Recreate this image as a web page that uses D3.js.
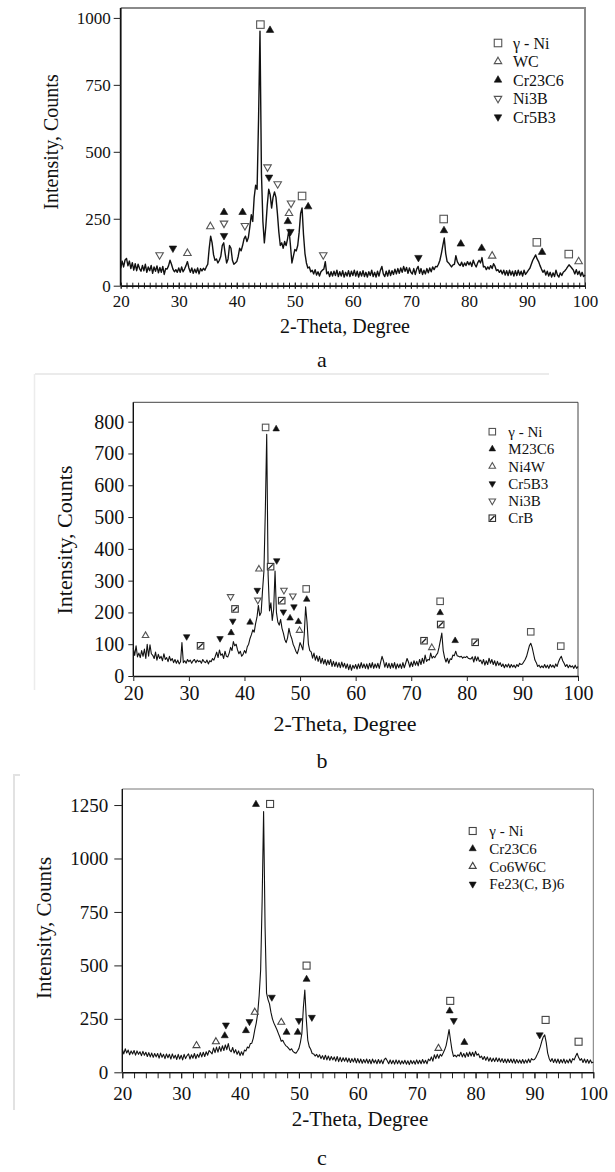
<!DOCTYPE html>
<html>
<head>
<meta charset="utf-8">
<script src="https://cdn.jsdelivr.net/npm/d3@7"></script>
<style>
body { margin: 0; background: #fff; }
svg { display: block; }
svg text { font-family: "Liberation Serif", "Times New Roman", serif !important; fill: #111; }
</style>
</head>
<body>
<svg id="chart" width="615" height="1172" font-family="Liberation Serif"></svg>
<script>
// all three scans are sampled on the same 2-theta grid
const scanStart = 20
const scanStep = 0.25

// (a) intensity, 20..100 deg, one row = 2 deg
const intensityA = [
  66, 92, 70, 96, 102, 74, 92, 64,
  86, 58, 82, 56, 80, 64, 54, 76,
  56, 80, 50, 70, 56, 76, 46, 70,
  54, 74, 48, 68, 50, 72, 42, 64,
  62, 75, 95, 80, 62, 52, 60, 50,
  66, 50, 70, 52, 62, 75, 90, 66,
  50, 66, 46, 62, 48, 66, 44, 64,
  55, 65, 58, 70, 80, 140, 185, 160,
  115, 95, 100, 85, 95, 110, 150, 160,
  120, 85, 100, 150, 140, 95, 80, 85,
  90, 110, 140, 130, 150, 175, 185, 165,
  180, 220, 265, 240, 330, 375, 360, 620,
  950, 420, 240, 160, 220, 300, 360, 340,
  290, 330, 350, 330, 270, 200, 150, 160,
  140, 165, 150, 175, 210, 150, 85, 110,
  135, 130, 150, 200, 270, 290, 190, 120,
  85, 66, 70, 52, 58, 44, 60, 40,
  52, 36, 52, 58, 62, 90, 44, 52,
  34, 52, 36, 54, 38, 58, 34, 52,
  36, 56, 32, 50, 36, 56, 34, 54,
  38, 58, 36, 54, 32, 52, 36, 56,
  34, 50, 32, 52, 38, 58, 34, 50,
  32, 54, 36, 58, 72, 44, 34, 54,
  36, 58, 38, 56, 42, 62, 44, 64,
  46, 66, 50, 72, 54, 68, 46, 66,
  50, 44, 64, 42, 62, 72, 46, 64,
  42, 58, 44, 64, 48, 66, 52, 70,
  60, 72, 70, 80, 95, 120, 150, 178,
  120, 90, 85, 78, 70, 78, 80, 112,
  90, 80, 75, 88, 72, 85, 75, 90,
  78, 88, 72, 95, 80, 70, 85, 95,
  85, 105, 70, 72, 60, 70, 62, 75,
  64, 82, 72, 56, 60, 50, 58, 44,
  58, 40, 56, 38, 58, 40, 54, 36,
  56, 38, 58, 40, 54, 36, 58, 42,
  50, 58, 65, 80, 95, 105, 115, 100,
  90, 75, 62, 50, 58, 40, 54, 36,
  50, 32, 48, 34, 58, 40, 32, 48,
  38, 50, 55, 62, 70, 78, 72, 65,
  58, 44, 60, 42, 54, 36, 50, 34,
  40
]

// (b)
const intensityB = [
  88, 65, 95, 60, 72, 58, 80, 62,
  85, 55, 100, 62, 98, 70, 65, 55,
  75, 50, 68, 55, 62, 48, 70, 52,
  58, 45, 62, 48, 55, 42, 52, 40,
  50, 38, 45, 105, 42, 48, 40, 52,
  45, 50, 40, 48, 52, 42, 50, 45,
  48, 40, 52, 45, 42, 50, 38, 48,
  45, 55, 50, 62, 75, 58, 82, 65,
  70, 55, 78, 62, 60, 72, 90, 80,
  108, 95, 100, 82, 70, 78, 62, 68,
  80, 72, 92, 100, 118, 130, 145, 138,
  165, 185, 222, 190, 200, 270, 330, 520,
  760, 320, 205, 230, 175, 210, 330, 200,
  170, 160, 178, 150, 135, 115, 105, 120,
  150, 130, 118, 100, 90, 78, 70, 85,
  105, 95, 82, 130, 218, 170, 100, 80,
  76, 56, 72, 50, 64, 46, 62, 40,
  56, 38, 52, 34, 50, 36, 52, 30,
  46, 30, 44, 28, 42, 26, 44, 28,
  40, 24, 38, 20, 36, 18, 34, 24,
  36, 22, 38, 24, 42, 26, 38, 24,
  38, 22, 40, 26, 42, 24, 38, 26,
  40, 24, 44, 62, 48, 28, 42, 26,
  40, 24, 40, 26, 42, 22, 38, 26,
  38, 24, 42, 26, 40, 55, 44, 28,
  44, 30, 48, 34, 46, 32, 52, 36,
  56, 40, 66, 46, 52, 50, 72, 56,
  62, 58, 66, 72, 90, 112, 135, 80,
  58, 44, 56, 40, 54, 52, 66, 64,
  78, 64, 62, 60, 62, 56, 60, 58,
  62, 56, 54, 54, 60, 44, 62, 48,
  60, 46, 50, 38, 52, 34, 48, 36,
  56, 40, 52, 36, 48, 32, 46, 34,
  42, 30, 38, 26, 36, 28, 38, 26,
  36, 28, 34, 26, 36, 30, 40, 36,
  38, 45, 52, 62, 78, 95, 103, 90,
  70, 50, 42, 30, 34, 26, 32, 26,
  36, 26, 34, 24, 36, 28, 34, 26,
  38, 30, 45, 55, 62, 48, 40, 30,
  36, 26, 34, 28, 32, 24, 34, 24,
  30
]

// (c)
const intensityC = [
  108, 86, 110, 90, 104, 82, 100, 86,
  102, 80, 100, 84, 96, 78, 98, 80,
  94, 74, 92, 72, 90, 70, 88, 72,
  88, 66, 90, 70, 84, 64, 86, 68,
  84, 62, 86, 66, 80, 60, 84, 62,
  80, 58, 84, 64, 78, 86, 62, 82,
  66, 88, 64, 84, 70, 92, 72, 94,
  74, 96, 80, 102, 94, 86, 114, 92,
  118, 94, 120, 98, 124, 102, 128, 106,
  134, 104, 96, 116, 90, 106, 84, 100,
  78, 96, 80, 104, 100, 118, 114, 134,
  136, 160, 198, 230, 276, 360, 480, 800,
  1220, 680, 370, 340, 320, 280, 250, 230,
  215, 200, 182, 165, 145, 150, 136, 125,
  120, 112, 104, 110, 97, 92, 89, 100,
  112, 140, 182, 300, 385, 250, 151, 120,
  108, 88, 86, 76, 84, 70, 82, 64,
  78, 60, 80, 58, 76, 56, 74, 58,
  72, 52, 74, 50, 70, 50, 68, 52,
  68, 48, 66, 46, 64, 48, 66, 44,
  64, 44, 62, 42, 60, 44, 62, 42,
  60, 40, 62, 44, 58, 40, 60, 42,
  58, 40, 60, 66, 54, 40, 58, 40,
  56, 38, 58, 40, 56, 38, 54, 40,
  56, 38, 54, 36, 56, 40, 54, 38,
  58, 40, 56, 40, 60, 42, 56, 40,
  62, 54, 72, 52, 82, 64, 84, 66,
  84, 76, 90, 105, 125, 160, 200, 150,
  104, 74, 80, 72, 82, 76, 94, 72,
  88, 70, 92, 74, 95, 76, 94, 74,
  98, 80, 86, 68, 76, 60, 74, 56,
  72, 52, 68, 50, 66, 50, 68, 50,
  66, 48, 64, 46, 62, 44, 62, 46,
  62, 44, 62, 42, 60, 44, 58, 42,
  60, 42, 58, 44, 62, 46, 64, 58,
  60, 70, 85, 100, 120, 145, 165, 175,
  140, 90, 65, 50, 64, 46, 62, 44,
  62, 42, 60, 44, 62, 42, 58, 44,
  62, 44, 64, 58, 75, 89, 70, 56,
  64, 46, 62, 44, 60, 42, 58, 44,
  48
]

// phase markers [2-theta, intensity where the mark sits]
const aNi = [[44.07, 975], [51.25, 335], [75.65, 249], [91.7, 162], [97.2, 118]]
const aWC = [[31.5, 121], [35.45, 221], [49.0, 270], [84.0, 111], [98.9, 90]]
const aCr23C6 = [[45.73, 954], [37.8, 274], [41.0, 274], [48.8, 240], [52.3, 295], [75.7, 206], [78.6, 156], [82.2, 140], [92.6, 125]]
const aNi3B = [[26.7, 115], [37.8, 233], [41.4, 224], [45.3, 443], [47.05, 380], [49.35, 308], [54.9, 115]]
const aCr5B3 = [[29.0, 140], [37.8, 187], [45.56, 405], [49.24, 202], [71.3, 105]]

const bNi = [[43.8, 782], [51.1, 274], [75.2, 235], [91.5, 139], [96.9, 94]]
const bM23C6 = [[45.7, 777], [37.6, 136], [41.0, 169], [48.2, 182], [49.7, 171], [51.2, 241], [75.2, 199], [77.9, 111]]
const bNi4W = [[22.2, 127], [42.6, 336], [49.9, 143], [73.7, 89]]
const bCr5B3 = [[29.6, 124], [35.6, 118], [37.9, 173], [42.3, 270], [45.8, 363], [47.0, 202], [48.9, 218]]
const bNi3B = [[37.5, 250], [42.4, 239], [47.1, 270], [48.7, 252]]
const bCrB = [[32.1, 95], [38.3, 211], [44.7, 344], [46.7, 237], [75.3, 162], [72.3, 111], [81.5, 106]]

const cNi = [[45.1, 1255], [51.3, 499], [75.7, 334], [91.9, 245], [97.5, 143]]
const cCr23C6 = [[42.7, 1253], [37.4, 171], [41.0, 195], [47.9, 187], [49.8, 187], [51.3, 435], [75.6, 287], [78.1, 140]]
const cCo6W6C = [[32.6, 125], [35.9, 143], [42.5, 281], [47.0, 234], [73.7, 112]]
const cFe23 = [[37.6, 221], [41.6, 237], [45.4, 351], [50.0, 242], [52.2, 257], [76.3, 242], [90.9, 175]]

const legendA = ['γ - Ni', 'WC', 'Cr23C6', 'Ni3B', 'Cr5B3']
const legendB = ['γ - Ni', 'M23C6', 'Ni4W', 'Cr5B3', 'Ni3B', 'CrB']
const legendC = ['γ - Ni', 'Cr23C6', 'Co6W6C', 'Fe23(C, B)6']

const xTicks = [20, 30, 40, 50, 60, 70, 80, 90, 100]
const yTicksA = [0, 250, 500, 750, 1000]
const yTicksB = [0, 100, 200, 300, 400, 500, 600, 700, 800]
const yTicksC = [0, 250, 500, 750, 1000, 1250]

const xTitle = '2-Theta, Degree'
const yTitle = 'Intensity, Counts'
const serif = '"Liberation Serif", "Times New Roman", serif'

const svg = d3.select('#chart')

// faint page frame lines left over from the scanned figure
svg.append('line').attr('x1', 35).attr('x2', 549).attr('y1', 374).attr('y2', 374)
    .attr('stroke', '#e4e4e4').attr('stroke-width', 1.5)
svg.append('line').attr('x1', 34.5).attr('x2', 34.5).attr('y1', 374).attr('y2', 690)
    .attr('stroke', '#ececec').attr('stroke-width', 1.5)
svg.append('path').attr('d', 'M20,775H14V1110')
    .attr('fill', 'none').attr('stroke', '#e2e2e2').attr('stroke-width', 2)

let glyph = (g, kind, cx, cy, s, openColor) => {
    if (kind == 'sq' || kind == 'crb') {
        g.append('rect')
            .attr('x', cx - s / 2).attr('y', cy - s / 2)
            .attr('width', s).attr('height', s)
            .attr('fill', '#fff')
            .attr('stroke', kind == 'crb' ? '#333' : openColor)
            .attr('stroke-width', 1.1)
        if (kind == 'crb') {
            g.append('line')
                .attr('x1', cx - s / 2 + 1).attr('y1', cy + s / 2 - 1)
                .attr('x2', cx + s / 2 - 1).attr('y2', cy - s / 2 + 1)
                .attr('stroke', '#222').attr('stroke-width', 1.3)
        }
        return
    }
    let up = kind == 'tu' || kind == 'tuf'
    let filled = kind == 'tuf' || kind == 'tdf'
    let area = s * s * Math.sqrt(3) / 4
    g.append('path')
        .attr('d', d3.symbol(d3.symbolTriangle, area)())
        .attr('transform', `translate(${cx},${cy}) rotate(${up ? 0 : 180})`)
        .attr('fill', filled ? '#111' : '#fff')
        .attr('stroke', filled ? '#111' : openColor)
        .attr('stroke-width', filled ? 0.6 : 1.1)
}

const drawPanel = (p) => {
    let g = svg.append('g')
    let x = d3.scaleLinear().domain([20, 100]).range([p.left, p.right])
    let y = d3.scaleLinear().domain([0, p.yMax]).range([p.bottom, p.top])

    // top / right frame
    g.append('path')
        .attr('d', `M${p.left},${p.top}H${p.right}V${p.bottom}`)
        .attr('fill', 'none')
        .attr('stroke', p.frameColor)
        .attr('stroke-width', p.frameWidth)

    // minor ticks on the 2-theta axis
    if (p.minorStep) {
        g.append('g')
            .attr('transform', `translate(0,${p.bottom})`)
            .call(d3.axisBottom(x).tickValues(d3.range(20, 100.01, p.minorStep)).tickSize(p.minorSize).tickFormat(''))
            .call(a => a.select('.domain').remove())
            .call(a => a.selectAll('line').attr('y1', p.minorUp).attr('stroke', '#222'))
    }

    let xa = g.append('g')
        .attr('transform', `translate(0,${p.bottom})`)
        .call(d3.axisBottom(x).tickValues(xTicks).tickFormat(d3.format('d'))
            .tickSize(p.xTickSize).tickSizeOuter(0).tickPadding(p.xPad))
    xa.attr('font-family', null)
    xa.select('.domain').attr('stroke', '#111').attr('stroke-width', p.axisWidth)
    xa.selectAll('.tick line').attr('stroke', '#222').attr('y1', p.minorUp || 0)
    xa.selectAll('text').style('font-size', p.tickFont + 'px').style('font-family', serif).attr('fill', '#111')

    let ya = g.append('g')
        .attr('transform', `translate(${p.left},0)`)
        .call(d3.axisLeft(y).tickValues(p.yTicks).tickFormat(d3.format('d'))
            .tickSize(p.yTickSize).tickSizeOuter(0).tickPadding(p.yPad))
    ya.attr('font-family', null)
    ya.select('.domain').attr('stroke', '#111').attr('stroke-width', p.axisWidth)
        .attr('d', `M0,${p.bottom}V${p.top}`)
    ya.selectAll('.tick line').attr('stroke', '#222')
    ya.selectAll('text').style('font-size', p.tickFont + 'px').style('font-family', serif).attr('fill', '#111')

    // scan curve
    let pts = p.intensity.map((v, i) => [scanStart + i * scanStep, v])
    let line = d3.line().x(d => x(d[0])).y(d => y(d[1]))
    g.append('path')
        .datum(pts)
        .attr('d', line)
        .attr('fill', 'none')
        .attr('stroke', '#111')
        .attr('stroke-width', p.lineWidth)
        .attr('stroke-linejoin', 'round')

    // phase marks
    p.phases.forEach(ph => {
        ph.pts.forEach(d => glyph(g, ph.kind, x(d[0]), y(d[1]), p.mark, p.openColor))
    })

    // legend
    p.legend.forEach((name, i) => {
        let ly = p.legY + i * p.legGap
        glyph(g, p.phases[i].kind, p.legX, ly, p.legMark, p.openColor)
        g.append('text')
            .attr('x', p.legX + p.legText)
            .attr('y', ly)
            .attr('dy', '0.35em')
            .style('font-family', serif)
            .style('font-size', p.legFont + 'px')
            .text(name)
    })

    g.append('text')
        .attr('x', p.xTitleX).attr('y', p.xTitleY)
        .attr('text-anchor', 'middle')
        .style('font-family', serif)
        .style('font-size', p.titleFont + 'px')
        .text(xTitle)

    g.append('text')
        .attr('transform', `translate(${p.yTitleX},${p.yTitleY}) rotate(-90)`)
        .attr('text-anchor', 'middle')
        .style('font-family', serif)
        .style('font-size', p.titleFont + 'px')
        .text(yTitle)

    g.append('text')
        .attr('x', 322).attr('y', p.letterY)
        .attr('text-anchor', 'middle')
        .style('font-family', serif)
        .style('font-size', '22px')
        .text(p.letter)
}

drawPanel({
    left: 120.7, right: 585, top: 8, bottom: 285.7, yMax: 1037,
    frameColor: '#8a8a8a', frameWidth: 2, axisWidth: 1.8,
    minorStep: 1, minorSize: 3, minorUp: -3,
    xTickSize: 3, xPad: 6, yTickSize: 7, yPad: 3, yTicks: yTicksA,
    tickFont: 17, titleFont: 20, lineWidth: 1.4,
    intensity: intensityA, mark: 7.5, openColor: '#555',
    phases: [
        { kind: 'sq', pts: aNi }, { kind: 'tu', pts: aWC }, { kind: 'tuf', pts: aCr23C6 },
        { kind: 'td', pts: aNi3B }, { kind: 'tdf', pts: aCr5B3 }
    ],
    legend: legendA, legX: 498, legY: 43, legGap: 18.5, legMark: 7.5, legText: 15, legFont: 16,
    xTitleX: 345, xTitleY: 333, yTitleX: 58, yTitleY: 142,
    letter: 'a', letterY: 367
})

drawPanel({
    left: 133.3, right: 578, top: 402.3, bottom: 676, yMax: 861,
    frameColor: '#444', frameWidth: 1, axisWidth: 1.4,
    minorStep: 0,
    xTickSize: 5, xPad: 5, yTickSize: 5, yPad: 4, yTicks: yTicksB,
    tickFont: 20, titleFont: 22, lineWidth: 1.1,
    intensity: intensityB, mark: 6.5, openColor: '#555',
    phases: [
        { kind: 'sq', pts: bNi }, { kind: 'tuf', pts: bM23C6 }, { kind: 'tu', pts: bNi4W },
        { kind: 'tdf', pts: bCr5B3 }, { kind: 'td', pts: bNi3B }, { kind: 'crb', pts: bCrB }
    ],
    legend: legendB, legX: 492.3, legY: 431.7, legGap: 17.3, legMark: 6.5, legText: 16, legFont: 15,
    xTitleX: 345, xTitleY: 731, yTitleX: 72, yTitleY: 540,
    letter: 'b', letterY: 768
})

drawPanel({
    left: 122.3, right: 593.3, top: 789, bottom: 1072.3, yMax: 1325,
    frameColor: '#777', frameWidth: 1, axisWidth: 1.4,
    minorStep: 2, minorSize: 6, minorUp: 0,
    xTickSize: 6, xPad: 8, yTickSize: 8, yPad: 6, yTicks: yTicksC,
    tickFont: 19, titleFont: 21, lineWidth: 1.1,
    intensity: intensityC, mark: 7, openColor: '#444',
    phases: [
        { kind: 'sq', pts: cNi }, { kind: 'tuf', pts: cCr23C6 }, { kind: 'tu', pts: cCo6W6C },
        { kind: 'tdf', pts: cFe23 }
    ],
    legend: legendC, legX: 472.7, legY: 831, legGap: 17.7, legMark: 7, legText: 16.6, legFont: 15,
    xTitleX: 360, xTitleY: 1126, yTitleX: 51, yTitleY: 928,
    letter: 'c', letterY: 1165
})
</script>
</body>
</html>
